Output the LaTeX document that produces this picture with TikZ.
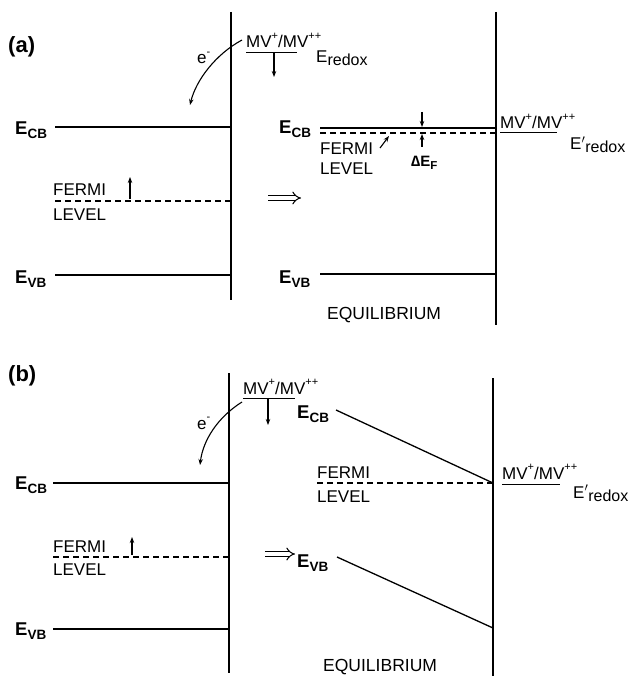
\documentclass[tikz,border=0pt]{standalone}
\usepackage{fontspec}
\setmainfont{Liberation Sans}
\usetikzlibrary{arrows.meta}
\newcommand\Elab[1]{{\bfseries\fontsize{18.5}{18}\selectfont E\raisebox{-4pt}{\fontsize{13.5}{13}\selectfont #1}}}
\newcommand\sups[1]{\raisebox{0.5em}{\fontsize{11}{11}\selectfont #1}}
\newcommand\MVlab{MV\sups{+}/MV\sups{++}}
\newcommand\redoxlab[1]{E#1\raisebox{-3pt}{\fontsize{16}{16}\selectfont redox}}
\tikzset{
  band/.style={line width=1.3pt},
  wall/.style={line width=1.3pt},
  fermi/.style={line width=1.3pt, dash pattern=on 6pt off 4pt},
  txt/.style={font=\fontsize{17}{17}\selectfont, inner sep=0pt, anchor=base west},
  elab/.style={inner sep=0pt, anchor=base west},
  panel/.style={font=\bfseries\fontsize{22}{22}\selectfont, inner sep=0pt, anchor=base west},
  eq/.style={font=\fontsize{17.5}{18}\selectfont, inner sep=0pt, anchor=base west},
  small/.style={line width=1.1pt, -{Stealth[length=6pt,width=4.5pt]}},
  implies/.style={line width=1pt, double, double distance=3.5pt, -{Implies}},
}
\begin{document}
\begin{tikzpicture}[x=1pt,y=-1pt]
\useasboundingbox (0,0) rectangle (636,676);
% ---------------- panel (a) ----------------
\node[panel] (pa) at (8,53) {(a)};
\coordinate (wA1t) at (231,12); \coordinate (wA1b) at (231,300);
\coordinate (wA2t) at (496,12); \coordinate (wA2b) at (496,325);
\draw[wall] (wA1t) -- (wA1b);
\draw[wall] (wA2t) -- (wA2b);
% left bands
\node[elab] (ecbA) at (15,135) {\Elab{CB}};
\coordinate (ecbAl) at (55,127);
\draw[band] (ecbAl) -- (ecbAl -| wA1t);
\coordinate (fA) at (55,201);
\draw[fermi] (fA) -- (fA -| wA1t);
\node[txt] (fermiA) at (53,196) {FERMI};
\node[txt] (levelA) at (53,220) {LEVEL};
\coordinate (upAs) at (130,199); \coordinate (upAe) at (130,177);
\draw[small] (upAs) -- (upAe);
\node[elab] (evbA) at (15,283) {\Elab{VB}};
\coordinate (evbAl) at (55,275);
\draw[band] (evbAl) -- (evbAl -| wA1t);
% redox couple top
\node[txt] (mvA) at (246,48) {\MVlab};
\coordinate (mvAu1) at (246,53); \coordinate (mvAu2) at (297,53);
\draw[line width=1pt] (mvAu1) -- (mvAu2);
\coordinate (mvAa) at (274,53); \coordinate (mvAb) at (274,77);
\draw[small] (mvAa) -- (mvAb);
\node[txt] (erA) at (316,63) {\redoxlab{}};
% electron transfer
\coordinate (eAs) at (242,40); \coordinate (eAe) at (190,105);
\draw[small] (eAs) .. controls (216,54) and (196,80) .. (eAe);
\node[txt] (emA) at (197,64) {e\sups{-}};
% implies
\coordinate (imAs) at (268,198); \coordinate (imAe) at (301,198);
\draw[implies] (imAs) -- (imAe);
% equilibrium (a)
\node[elab] (ecbA2) at (279,134) {\Elab{CB}};
\coordinate (ecbA2l) at (320,128);
\draw[band] (ecbA2l) -- (ecbA2l -| wA2t);
\coordinate (fA2) at (320,133);
\draw[fermi] (fA2) -- (fA2 -| wA2t);
\node[txt] (fermiA2) at (320,155) {FERMI};
\node[txt] (levelA2) at (320,175) {LEVEL};
\coordinate (ptA1) at (380,148); \coordinate (ptA2) at (389,136);
\draw[small] (ptA1) -- (ptA2);
\coordinate (dA1) at (422,112); \coordinate (dA2) at (422,127);
\draw[small] (dA1) -- (dA2);
\coordinate (dA3) at (422,147); \coordinate (dA4) at (422,134);
\draw[small] (dA3) -- (dA4);
\node[elab] (dEF) at (411,167) {\fontsize{15}{15}\selectfont\bfseries ∆E\raisebox{-3pt}{\fontsize{11.5}{11}\selectfont F}};
\node[txt] (mvA2) at (500,129) {\MVlab};
\coordinate (mvA2u1) at (500,133); \coordinate (mvA2u2) at (557,133);
\draw[line width=1pt] (mvA2u1) -- (mvA2u2);
\node[txt] (erA2) at (570,150) {\redoxlab{$'$}};
\node[elab] (evbA2) at (279,283) {\Elab{VB}};
\coordinate (evbA2l) at (320,274);
\draw[band] (evbA2l) -- (evbA2l -| wA2t);
\node[eq] (eqA) at (327,319) {EQUILIBRIUM};
% ---------------- panel (b) ----------------
\node[panel] (pb) at (8,381) {(b)};
\coordinate (wB1t) at (229,373); \coordinate (wB1b) at (229,673);
\coordinate (wB2t) at (493,378); \coordinate (wB2b) at (493,676);
\draw[wall] (wB1t) -- (wB1b);
\draw[wall] (wB2t) -- (wB2b);
\node[elab] (ecbB) at (15,489) {\Elab{CB}};
\coordinate (ecbBl) at (53,483);
\draw[band] (ecbBl) -- (ecbBl -| wB1t);
\coordinate (fB) at (53,557);
\draw[fermi] (fB) -- (fB -| wB1t);
\node[txt] (fermiB) at (53,552) {FERMI};
\node[txt] (levelB) at (53,575) {LEVEL};
\coordinate (upBs) at (132,555); \coordinate (upBe) at (132,537);
\draw[small] (upBs) -- (upBe);
\node[elab] (evbB) at (15,635) {\Elab{VB}};
\coordinate (evbBl) at (53,629);
\draw[band] (evbBl) -- (evbBl -| wB1t);
\node[txt] (mvB) at (243,394) {\MVlab};
\coordinate (mvBu1) at (243,398); \coordinate (mvBu2) at (295,398);
\draw[line width=1pt] (mvBu1) -- (mvBu2);
\coordinate (mvBa) at (268,398); \coordinate (mvBb) at (268,425);
\draw[small] (mvBa) -- (mvBb);
\coordinate (eBs) at (242,402); \coordinate (eBe) at (200,465);
\draw[small] (eBs) .. controls (218,417) and (203,440) .. (eBe);
\node[txt] (emB) at (197,429) {e\sups{-}};
\coordinate (imBs) at (265,554); \coordinate (imBe) at (295,554);
\draw[implies] (imBs) -- (imBe);
\node[elab] (ecbB2) at (297,418) {\Elab{CB}};
\coordinate (ecbB2s) at (336,410); \coordinate (ecbB2e) at (493,483);
\draw[band] (ecbB2s) -- (ecbB2e);
\coordinate (fB2) at (317,483);
\draw[fermi] (fB2) -- (fB2 -| wB2t);
\node[txt] (fermiB2) at (317,478) {FERMI};
\node[txt] (levelB2) at (317,502) {LEVEL};
\node[txt] (mvB2) at (502,479) {\MVlab};
\coordinate (mvB2u1) at (502,484); \coordinate (mvB2u2) at (560,484);
\draw[line width=1pt] (mvB2u1) -- (mvB2u2);
\node[txt] (erB2) at (573,498) {\redoxlab{$'$}};
\node[elab] (evbB2) at (297,567) {\Elab{VB}};
\coordinate (evbB2s) at (337,557); \coordinate (evbB2e) at (493,628);
\draw[band] (evbB2s) -- (evbB2e);
\node[eq] (eqB) at (323,671) {EQUILIBRIUM};
\end{tikzpicture}
\end{document}
